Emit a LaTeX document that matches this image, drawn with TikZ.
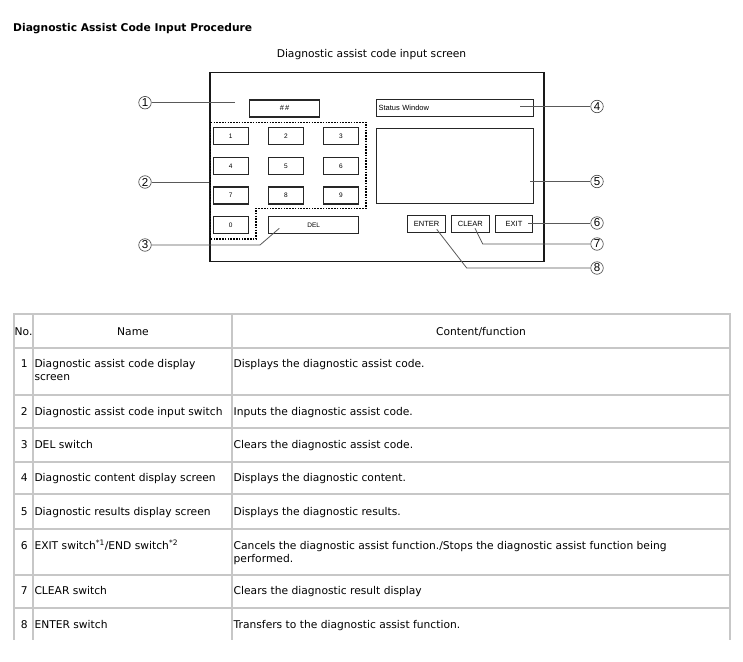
\documentclass[tikz,border=0pt]{standalone}
\usepackage{fontspec}
\setmainfont{DejaVu Sans}
\newfontfamily\panelfont{Liberation Sans}
\usetikzlibrary{positioning, calc}

\begin{document}
\begin{tikzpicture}[
    x=1pt, y=-1pt,
    node distance=11.5pt and 19pt,
    key/.style={rectangle, draw=black!85, line width=1.1pt,
                minimum width=35pt, minimum height=17pt, inner sep=0pt,
                font=\panelfont\fontsize{6.5}{7}\selectfont},
    screen/.style={rectangle, draw=black!85, line width=1.2pt,
                   inner sep=0pt, font=\panelfont\fontsize{7.5}{8}\selectfont},
    callout/.style={circle, draw=black!75, line width=0.6pt,
                    minimum size=12.5pt, inner sep=0pt,
                    font=\panelfont\fontsize{11.5}{11.5}\selectfont},
    leader/.style={draw=black!65, line width=0.8pt},
    grid/.style={draw=black!22, line width=2pt},
    cell/.style={anchor=base west, inner sep=0pt, align=left,
                 font=\fontsize{10.7}{13.3}\selectfont},
]
\useasboundingbox (0,0) rectangle (743,661);

%% Headings
\node[anchor=base west, inner sep=0pt, font=\bfseries\fontsize{10.7}{13}\selectfont]
    (title) at (13,31.5) {Diagnostic Assist Code Input Procedure};
\node[inner sep=0pt, font=\fontsize{10.7}{13}\selectfont]
    (caption) at (371.5,54.5) {Diagnostic assist code input screen};

%% Panel
\node[draw=black!90, line width=1.5pt, minimum width=334pt, minimum height=189pt,
      anchor=north west] (panel) at (209,71.5) {};
\node[screen, minimum width=70pt, minimum height=17pt, anchor=north west]
    (code) at (249,99.3) {\#\,\#};
\node[screen, minimum width=157pt, minimum height=17pt, anchor=north west,
      text width=153pt, align=left] (status) at (376,99) {Status Window};
\node[screen, minimum width=157pt, minimum height=75.5pt, anchor=north west]
    (results) at (376,127.5) {};

%% Keypad
\node[key] (k1) at (230.8,136.3) {1};
\node[key, right=of k1] (k2) {2};
\node[key, right=of k2] (k3) {3};
\node[key, below=of k1] (k4) {4};
\node[key, right=of k4] (k5) {5};
\node[key, right=of k5] (k6) {6};
\node[key, below=of k4] (k7) {7};
\node[key, right=of k7] (k8) {8};
\node[key, right=of k8] (k9) {9};
\node[key, below=of k7] (k0) {0};
\node[key, right=of k0, minimum width=90.5pt] (del) {DEL};
\draw[line width=1.2pt, dash pattern=on 1.6pt off 1.2pt]
    (210.8,122.3) -| (366,208.3) -| (256,239) -| cycle;

%% Function keys
\node[key, minimum width=37.5pt, font=\panelfont\fontsize{7.5}{8}\selectfont,
      anchor=north east] (exit) at (533.3,214.7) {EXIT};
\node[key, minimum width=37.5pt, font=\panelfont\fontsize{7.5}{8}\selectfont,
      left=5pt of exit] (clear) {CLEAR};
\node[key, minimum width=38pt, font=\panelfont\fontsize{7.5}{8}\selectfont,
      left=5pt of clear] (enter) {ENTER};

%% Callouts
\node[callout] (c1) at (145,102.7) {1};
\node[callout] (c2) at (145,182) {2};
\node[callout] (c3) at (145,245) {3};
\node[callout] (c4) at (597,106.5) {4};
\node[callout] (c5) at (597,181.5) {5};
\node[callout] (c6) at (597,223) {6};
\node[callout] (c7) at (597,244) {7};
\node[callout] (c8) at (597,268) {8};

\coordinate (p1) at (235,102.7);
\coordinate (p3) at (279.3,228.3);
\coordinate (p7) at (475,228.3);
\coordinate (p8) at (436.7,229.3);

\draw[leader] (c1) -- (p1);
\draw[leader] (c2) -- (c2 -| panel.west);
\draw[leader] (c3) -- (260,245) -- (p3);
\draw[leader] (c4) -- ($(status.east |- c4)+(-14,0)$);
\draw[leader] (c5) -- ($(results.east |- c5)+(-4,0)$);
\draw[leader] (c6) -- ($(exit.east |- c6)+(-5,0)$);
\draw[leader] (c7) -- (482.7,244) -- (p7);
\draw[leader] (c8) -- (466.7,268) -- (p8);

%% Table rules
\draw[grid] (13.5,314) -- (730,314)
            (13.5,347.7) -- (730,347.7)
            (13.5,394.7) -- (730,394.7)
            (13.5,427.7) -- (730,427.7)
            (13.5,461.7) -- (730,461.7)
            (13.5,494.3) -- (730,494.3)
            (13.5,529) -- (730,529)
            (13.5,575) -- (730,575)
            (13.5,608.3) -- (730,608.3);
\draw[grid] (13.5,313) -- (13.5,640)
            (33.3,313) -- (33.3,640)
            (232.3,313) -- (232.3,640)
            (730,313) -- (730,640);

%% Table header
\node[cell] (hno) at (14.5,335) {No.};
\node[cell, anchor=base] (hname) at (133,335) {Name};
\node[cell, anchor=base] (hcontent) at (481,335) {Content/function};

%% Table rows (two-line cells sit on their last line)
\node[cell] (n1) at (20.7,367) {1};
\node[cell] (name1) at (34.3,380.3) {Diagnostic assist code display\\screen};
\node[cell] (fn1) at (233.5,367) {Displays the diagnostic assist code.};

\node[cell] (n2) at (20.7,415.5) {2};
\node[cell] (name2) at (34.3,415.5) {Diagnostic assist code input switch};
\node[cell] (fn2) at (233.5,415.5) {Inputs the diagnostic assist code.};

\node[cell] (n3) at (20.7,448.5) {3};
\node[cell] (name3) at (34.3,448.5) {DEL switch};
\node[cell] (fn3) at (233.5,448.5) {Clears the diagnostic assist code.};

\node[cell] (n4) at (20.7,481.5) {4};
\node[cell] (name4) at (34.3,481.5) {Diagnostic content display screen};
\node[cell] (fn4) at (233.5,481.5) {Displays the diagnostic content.};

\node[cell] (n5) at (20.7,515) {5};
\node[cell] (name5) at (34.3,515) {Diagnostic results display screen};
\node[cell] (fn5) at (233.5,515) {Displays the diagnostic results.};

\node[cell] (n6) at (20.7,549) {6};
\node[cell] (name6) at (34.3,549)
    {EXIT switch\textsuperscript{*1}/END switch\textsuperscript{*2}};
\node[cell] (fn6) at (233.5,562.3)
    {Cancels the diagnostic assist function./Stops the diagnostic assist function being\\performed.};

\node[cell] (n7) at (20.7,594.5) {7};
\node[cell] (name7) at (34.3,594.5) {CLEAR switch};
\node[cell] (fn7) at (233.5,594.5) {Clears the diagnostic result display};

\node[cell] (n8) at (20.7,628.5) {8};
\node[cell] (name8) at (34.3,628.5) {ENTER switch};
\node[cell] (fn8) at (233.5,628.5) {Transfers to the diagnostic assist function.};
\end{tikzpicture}
\end{document}
